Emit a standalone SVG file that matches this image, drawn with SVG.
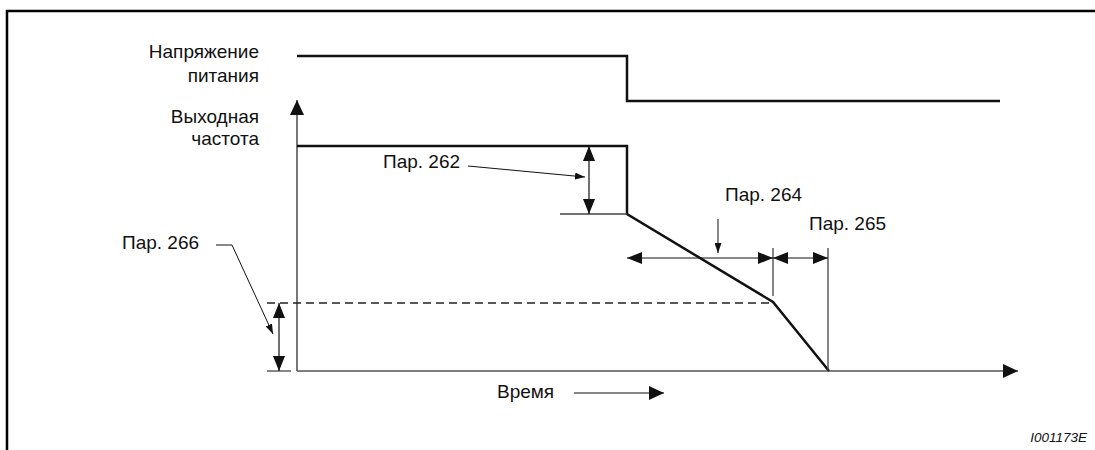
<svg xmlns="http://www.w3.org/2000/svg" width="1095" height="450" viewBox="0 0 1095 450">
<defs>
<style>
text{font-family:"Liberation Sans",Arial,sans-serif;font-size:19px;fill:#111}
.lbl{text-anchor:end}
.sig{fill:none;stroke:#111;stroke-width:2.5;stroke-linejoin:miter}
.axis{fill:none;stroke:#555;stroke-width:1.6}
.dim{fill:none;stroke:#111;stroke-width:1.2}
.thin{fill:none;stroke:#444;stroke-width:1.3}
.lead{fill:none;stroke:#111;stroke-width:1}
.dash{fill:none;stroke:#222;stroke-width:1.3;stroke-dasharray:8 5}
</style>
<marker id="big" markerUnits="userSpaceOnUse" viewBox="0 0 15 12" refX="15" refY="6" markerWidth="15" markerHeight="12" orient="auto-start-reverse"><path d="M0,0 L15,6 L0,12 z" fill="#111"/></marker>
<marker id="ax" markerUnits="userSpaceOnUse" viewBox="0 0 15 14" refX="15" refY="7" markerWidth="15" markerHeight="14" orient="auto"><path d="M0,0 L15,7 L0,14 z" fill="#111"/></marker>
<marker id="sm" markerUnits="userSpaceOnUse" viewBox="0 0 10 7" refX="10" refY="3.5" markerWidth="10" markerHeight="7" orient="auto"><path d="M0,0 L10,3.5 L0,7 z" fill="#111"/></marker>
</defs>
<rect width="1095" height="450" fill="#fff"/>
<path d="M7,450 V11 H1095" fill="none" stroke="#000" stroke-width="2.5"/>
<g id="labels">
<text class="lbl" x="259" y="58">Напряжение</text>
<text class="lbl" x="259" y="82">питания</text>
<text class="lbl" x="259" y="123">Выходная</text>
<text class="lbl" x="259" y="145">частота</text>
</g>
<g id="axes">
<line class="axis" x1="297" y1="371" x2="297" y2="100" marker-end="url(#ax)"/>
<line class="axis" x1="297" y1="371" x2="1018" y2="371" marker-end="url(#ax)"/>
</g>
<g id="supply-voltage">
<path class="sig" d="M297,56 H627 V101 H1000"/>
</g>
<g id="output-frequency">
<path class="sig" d="M297,146 H627 V214 L773,302 L829,371"/>
<line class="dash" x1="267" y1="303" x2="772" y2="303"/>
</g>
<g id="par262">
<text x="383" y="168">Пар. 262</text>
<line class="thin" x1="560" y1="214" x2="627" y2="214"/>
</g>
<g id="par264">
<text x="725" y="201">Пар. 264</text>
<line class="thin" x1="773" y1="248" x2="773" y2="296"/>
</g>
<g id="par265">
<text x="809" y="230">Пар. 265</text>
<line class="thin" x1="828" y1="248" x2="828" y2="371"/>
</g>
<g id="par266">
<text x="122" y="249">Пар. 266</text>
<line class="thin" x1="267" y1="371" x2="291" y2="371"/>
</g>
<g id="time">
<text x="497" y="398">Время</text>
</g>
<text x="1087" y="442" text-anchor="end" style="font-size:13.5px;font-style:italic">I001173E</text>
<g id="connectors">
<line class="dim" x1="589" y1="146" x2="589" y2="214" marker-start="url(#big)" marker-end="url(#big)"/>
<line class="lead" x1="468" y1="166" x2="585" y2="177" marker-end="url(#sm)"/>
<line class="lead" x1="718" y1="219" x2="718" y2="253" marker-end="url(#sm)"/>
<line class="dim" x1="627" y1="258" x2="773" y2="258" marker-start="url(#big)" marker-end="url(#big)"/>
<line class="dim" x1="773" y1="258" x2="828" y2="258" marker-start="url(#big)" marker-end="url(#big)"/>
<line class="dim" x1="279" y1="303" x2="279" y2="371" marker-start="url(#big)" marker-end="url(#big)"/>
<polyline class="lead" points="216,245 232,245 273,334" marker-end="url(#sm)"/>
<line class="lead" x1="574" y1="393" x2="664" y2="393" marker-end="url(#ax)"/>
</g>
</svg>
